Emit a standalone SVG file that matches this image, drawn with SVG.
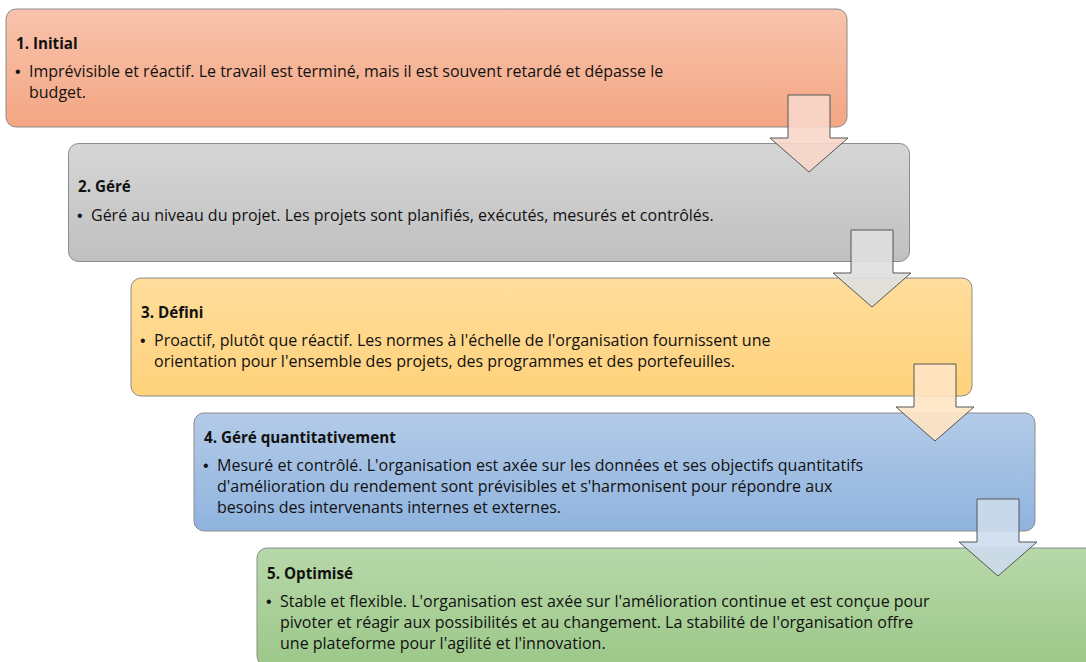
<svg xmlns="http://www.w3.org/2000/svg" width="1086" height="662" viewBox="0 0 1086 662">
  <defs>
    <linearGradient id="g1" x1="0" y1="0" x2="0" y2="1"><stop offset="0" stop-color="#F8C3AC"/><stop offset="1" stop-color="#F4A683"/></linearGradient>
    <linearGradient id="g2" x1="0" y1="0" x2="0" y2="1"><stop offset="0" stop-color="#D6D6D6"/><stop offset="1" stop-color="#C0C0C0"/></linearGradient>
    <linearGradient id="g3" x1="0" y1="0" x2="0" y2="1"><stop offset="0" stop-color="#FFDD9C"/><stop offset="1" stop-color="#FFD27B"/></linearGradient>
    <linearGradient id="g4" x1="0" y1="0" x2="0" y2="1"><stop offset="0" stop-color="#B3CBE8"/><stop offset="1" stop-color="#8FB3DE"/></linearGradient>
    <linearGradient id="g5" x1="0" y1="0" x2="0" y2="1"><stop offset="0" stop-color="#B7D8A9"/><stop offset="1" stop-color="#9DC889"/></linearGradient>
  </defs>
  <style>
    .box { stroke: #8C8C8C; stroke-width: 1; }
    .title { font-family: "Open Sans", "Liberation Sans", sans-serif; font-size: 15.2px; font-weight: bold; fill: #111; }
    .body { font-family: "Open Sans", "Liberation Sans", sans-serif; font-size: 16px; fill: #111; }
    .bullet { font-family: "Liberation Sans", sans-serif; font-size: 16px; fill: #111; }
    .arrow { stroke: #555; stroke-width: 1; fill-opacity: 0.9; }
  </style>
  <rect width="1086" height="662" fill="#FFFFFF"/>

  <g id="node1">
    <rect class="box" x="6" y="9" width="841" height="118" rx="10" fill="url(#g1)"/>
    <text class="title" x="16" y="49">1. Initial</text>
    <text class="bullet" x="15" y="77">•</text>
    <text class="body" x="29" y="77">Imprévisible et réactif. Le travail est terminé, mais il est souvent retardé et dépasse le</text>
    <text class="body" x="29" y="98">budget.</text>
  </g>

  <g id="node2">
    <rect class="box" x="68.5" y="143.5" width="841" height="118" rx="10" fill="url(#g2)"/>
    <text class="title" x="78" y="192">2. Géré</text>
    <text class="bullet" x="77" y="221">•</text>
    <text class="body" x="91" y="221">Géré au niveau du projet. Les projets sont planifiés, exécutés, mesurés et contrôlés.</text>
  </g>

  <g id="node3">
    <rect class="box" x="131" y="278" width="841" height="118" rx="10" fill="url(#g3)"/>
    <text class="title" x="141" y="318">3. Défini</text>
    <text class="bullet" x="140" y="346">•</text>
    <text class="body" x="154" y="346">Proactif, plutôt que réactif. Les normes à l'échelle de l'organisation fournissent une</text>
    <text class="body" x="154" y="367">orientation pour l'ensemble des projets, des programmes et des portefeuilles.</text>
  </g>

  <g id="node4">
    <rect class="box" x="194" y="413" width="841" height="118" rx="10" fill="url(#g4)"/>
    <text class="title" x="204" y="443">4. Géré quantitativement</text>
    <text class="bullet" x="203" y="471">•</text>
    <text class="body" x="217" y="471">Mesuré et contrôlé. L'organisation est axée sur les données et ses objectifs quantitatifs</text>
    <text class="body" x="217" y="492">d'amélioration du rendement sont prévisibles et s'harmonisent pour répondre aux</text>
    <text class="body" x="217" y="513">besoins des intervenants internes et externes.</text>
  </g>

  <g id="node5">
    <rect class="box" x="257" y="548" width="841" height="118" rx="10" fill="url(#g5)"/>
    <text class="title" x="267" y="579">5. Optimisé</text>
    <text class="bullet" x="266" y="607">•</text>
    <text class="body" x="280" y="607">Stable et flexible. L'organisation est axée sur l'amélioration continue et est conçue pour</text>
    <text class="body" x="280" y="628">pivoter et réagir aux possibilités et au changement. La stabilité de l'organisation offre</text>
    <text class="body" x="280" y="649">une plateforme pour l'agilité et l'innovation.</text>
  </g>

  <g id="connectors">
    <polygon class="arrow" fill="#F8D6CA" points="788,95 830,95 830,138 848,138 809,172 770,138 788,138"/>
    <polygon class="arrow" fill="#DFDFDF" points="851,230 893,230 893,273 911,273 872,307 833,273 851,273"/>
    <polygon class="arrow" fill="#FFE4C4" points="914,364 956,364 956,407 974,407 935,441 896,407 914,407"/>
    <polygon class="arrow" fill="#CDDBEC" points="977,499 1019,499 1019,542 1037,542 998,576 959,542 977,542"/>
  </g>
</svg>
